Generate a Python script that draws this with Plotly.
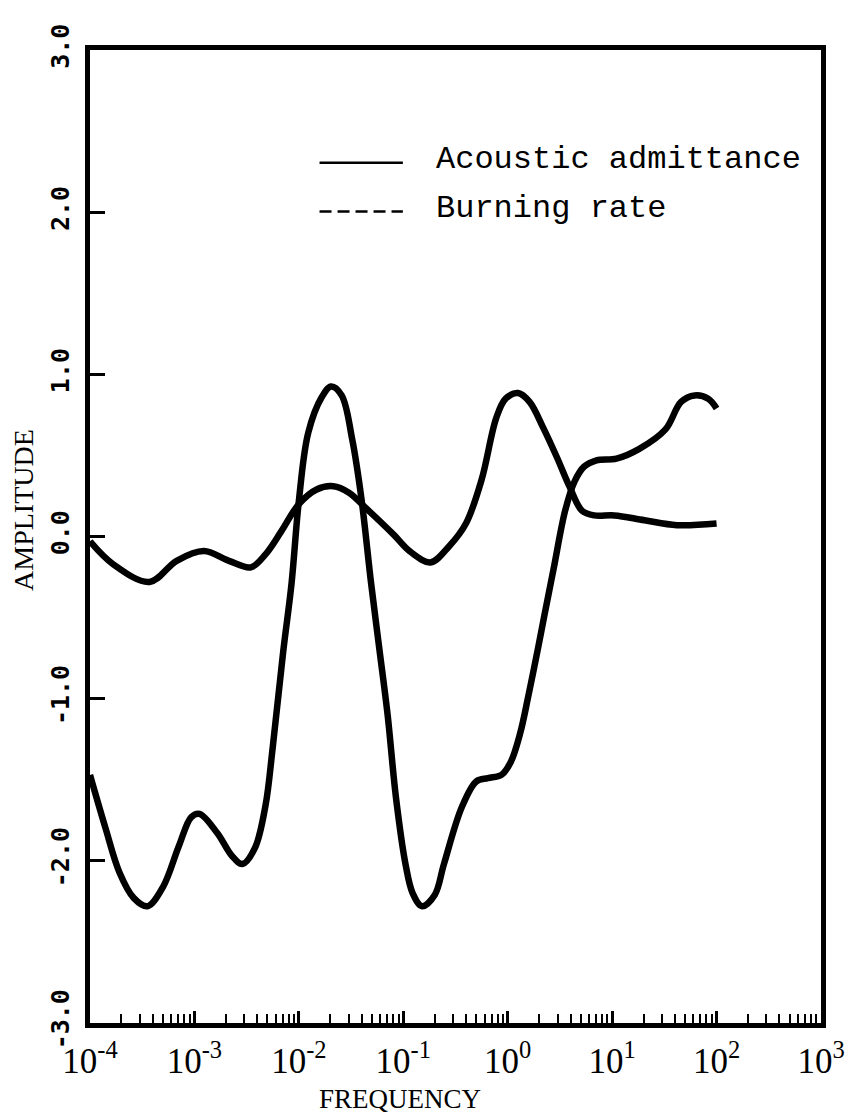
import plotly.graph_objects as go

# Frequency sweep for the acoustic admittance response
admittance_freq = [
    1.00e-4, 1.41e-4, 1.91e-4, 2.63e-4, 3.55e-4, 5.01e-4, 7.08e-4, 9.33e-4,
    1.12e-3, 1.66e-3, 2.29e-3, 2.88e-3, 3.80e-3, 4.79e-3, 5.62e-3, 7.08e-3,
    8.51e-3, 1.00e-2, 1.23e-2, 1.66e-2, 2.04e-2, 2.57e-2, 3.24e-2, 3.98e-2,
    4.90e-2, 5.89e-2, 7.08e-2, 8.51e-2, 0.105, 0.123, 0.151, 0.200,
    0.245, 0.363, 0.501, 0.646, 0.871, 1.07, 1.32, 1.58,
    1.95, 2.24, 2.75, 3.55, 4.37, 5.37, 7.08, 11.0,
    18.2, 32.4, 45.7, 61.7, 83.2, 100.0,
]
admittance_amp = [
    -1.47, -1.80, -2.07, -2.23, -2.28, -2.16, -1.91, -1.73,
    -1.71, -1.83, -1.97, -2.02, -1.92, -1.66, -1.30, -0.71,
    -0.29, 0.22, 0.64, 0.86, 0.925, 0.87, 0.60, 0.23,
    -0.28, -0.69, -1.10, -1.61, -2.02, -2.20, -2.28, -2.21,
    -2.02, -1.67, -1.51, -1.49, -1.47, -1.39, -1.21, -0.98,
    -0.69, -0.49, -0.20, 0.16, 0.34, 0.43, 0.47, 0.48,
    0.54, 0.66, 0.83, 0.87, 0.85, 0.79,
]

# Frequency sweep for the burning rate response
burning_freq = [
    1.00e-4, 1.66e-4, 3.72e-4, 6.76e-4, 1.23e-3, 2.14e-3, 3.47e-3, 4.79e-3,
    6.76e-3, 1.00e-2, 1.48e-2, 2.14e-2, 3.02e-2, 4.47e-2, 8.13e-2, 0.115,
    0.182, 0.275, 0.398, 0.562, 0.776, 0.955, 1.26, 1.62,
    2.19, 2.95, 3.89, 5.13, 6.76, 10.5, 20.4, 41.7, 100.0,
]
burning_amp = [
    -0.03, -0.17, -0.28, -0.15, -0.09, -0.15, -0.19, -0.11,
    0.03, 0.20, 0.29, 0.31, 0.27, 0.17, 0.01, -0.09,
    -0.16, -0.06, 0.08, 0.35, 0.73, 0.85, 0.885, 0.83,
    0.67, 0.49, 0.31, 0.16, 0.13, 0.13, 0.10, 0.07, 0.08,
]

# Axis ticks
x_tick_vals = [1e-4, 1e-3, 1e-2, 1e-1, 1e0, 1e1, 1e2, 1e3]
x_tick_text = ["10<sup>-4</sup>", "10<sup>-3</sup>", "10<sup>-2</sup>",
               "10<sup>-1</sup>", "10<sup>0</sup>", "10<sup>1</sup>",
               "10<sup>2</sup>", "10<sup>3</sup>"]
y_tick_vals = [-3, -2, -1, 0, 1, 2, 3]
y_tick_text = ["-3.0", "-2.0", "-1.0", "0.0", "1.0", "2.0", "3.0"]

legend_labels = ["Acoustic admittance", "Burning rate"]

INK = "#000000"

fig = go.Figure()
fig.add_trace(go.Scatter(
    x=admittance_freq, y=admittance_amp, mode="lines",
    line=dict(color=INK, width=6.5, shape="spline", smoothing=1.0),
    name=legend_labels[0], showlegend=False,
))
fig.add_trace(go.Scatter(
    x=burning_freq, y=burning_amp, mode="lines",
    line=dict(color=INK, width=6.5, shape="spline", smoothing=1.0),
    name=legend_labels[1], showlegend=False,
))

# Typewriter-style legend in the upper right of the frame
legend_y = [0.884, 0.834]
legend_dash = ["solid", "12px,6px"]
for label, ly, dash in zip(legend_labels, legend_y, legend_dash):
    fig.add_shape(type="line", xref="paper", yref="paper",
                  x0=0.314, x1=0.428, y0=ly, y1=ly,
                  line=dict(color=INK, width=2.5, dash=dash))
    fig.add_annotation(xref="paper", yref="paper", x=0.470, y=ly + 0.003,
                       text=label, showarrow=False, xanchor="left",
                       yanchor="middle",
                       font=dict(family="Liberation Mono, Courier New, monospace",
                                 size=32, color=INK))

# Axis titles
fig.add_annotation(xref="paper", yref="paper", x=0.424, y=-0.078,
                   text="FREQUENCY", showarrow=False,
                   xanchor="center", yanchor="middle",
                   font=dict(family="Liberation Serif, serif", size=27, color=INK))
fig.add_annotation(xref="paper", yref="paper", x=-0.092, y=0.527,
                   text="AMPLITUDE", showarrow=False, textangle=-90,
                   xanchor="center", yanchor="middle",
                   font=dict(family="Liberation Serif, serif", size=28, color=INK))

fig.update_xaxes(
    type="log", range=[-4, 3],
    tickmode="array", tickvals=x_tick_vals, ticktext=x_tick_text,
    ticks="inside", ticklen=12, tickwidth=3, tickcolor=INK,
    minor=dict(ticks="inside", ticklen=9, tickwidth=2, tickcolor=INK,
               dtick="D1", showgrid=False),
    showline=True, linewidth=5, linecolor=INK, mirror=True,
    showgrid=False, zeroline=False,
    tickfont=dict(family="Liberation Serif, serif", size=35, color=INK),
    ticklabelstandoff=3,
)
fig.update_yaxes(
    range=[-3, 3],
    tickmode="array", tickvals=y_tick_vals, ticktext=y_tick_text,
    ticks="inside", ticklen=15, tickwidth=3, tickcolor=INK,
    tickangle=-90,
    showline=True, linewidth=5, linecolor=INK, mirror=True,
    showgrid=False, zeroline=False,
    tickfont=dict(family="DejaVu Sans Mono, monospace", size=25, color=INK,
                  weight="bold"),
    ticklabelstandoff=6,
)

fig.update_layout(
    width=857, height=1118,
    margin=dict(l=90, r=29, t=50, b=95),
    paper_bgcolor="white", plot_bgcolor="white",
    showlegend=False,
)

fig.write_html("out.html")
